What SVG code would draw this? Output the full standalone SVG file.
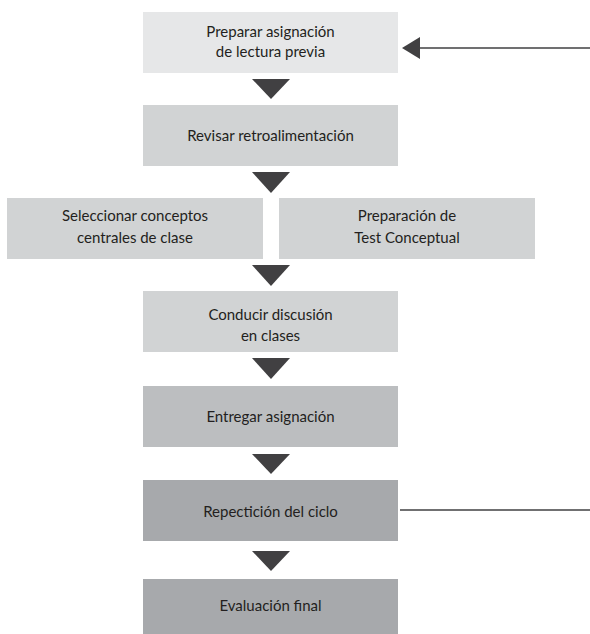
<svg xmlns="http://www.w3.org/2000/svg" width="590" height="634" viewBox="0 0 590 634">
<style>
text{font-family:Lato,"Open Sans","Liberation Sans",sans-serif;font-size:15px;fill:#231f20;text-anchor:middle}
.l1{fill:#e6e7e8}.l2{fill:#d1d3d4}.l3{fill:#bcbec0}.l4{fill:#a7a9ac}
.tri{fill:#414042}
.ln{stroke:#414042;stroke-width:1.5;fill:none}
</style>
<rect width="590" height="634" fill="#ffffff"/>
<g id="n1"><rect class="l1" x="143" y="12" width="255" height="61"/><text x="270.5" y="37">Preparar asignación</text><text x="270.5" y="57">de lectura previa</text></g>
<g id="n2"><rect class="l2" x="143" y="105" width="255" height="61"/><text x="270.5" y="141">Revisar retroalimentación</text></g>
<g id="n3"><rect class="l2" x="7" y="198" width="256" height="61"/><text x="135" y="221">Seleccionar conceptos</text><text x="135" y="243">centrales de clase</text></g>
<g id="n4"><rect class="l2" x="279" y="198" width="256" height="61"/><text x="407" y="221">Preparación de</text><text x="407" y="243">Test Conceptual</text></g>
<g id="n5"><rect class="l2" x="143" y="291" width="255" height="61"/><text x="270.5" y="320">Conducir discusión</text><text x="270.5" y="341">en clases</text></g>
<g id="n6"><rect class="l3" x="143" y="386" width="255" height="61"/><text x="270.5" y="422">Entregar asignación</text></g>
<g id="n7"><rect class="l4" x="143" y="480" width="255" height="61"/><text x="270.5" y="517">Repectición del ciclo</text></g>
<g id="n8"><rect class="l4" x="143" y="579" width="255" height="55"/><text x="270.5" y="611">Evaluación final</text></g>
<g id="connectors">
<polygon class="tri" points="252,79 290,79 271,99"/>
<polygon class="tri" points="252,172 290,172 271,193"/>
<polygon class="tri" points="252,265 290,265 271,286"/>
<polygon class="tri" points="252,358 290,358 271,379"/>
<polygon class="tri" points="252,454 290,454 271,474"/>
<polygon class="tri" points="252,551 290,551 271,571"/>
<line class="ln" x1="418" y1="48" x2="590" y2="48"/>
<polygon class="tri" points="402,48 420,37 420,59"/>
<line class="ln" x1="400" y1="510" x2="590" y2="510"/>
</g>
</svg>
